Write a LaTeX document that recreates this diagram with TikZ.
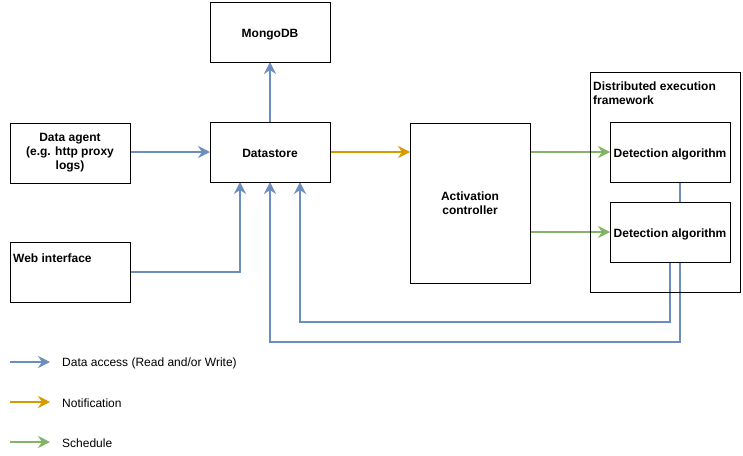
\documentclass[tikz,border=0pt]{standalone}
\usepackage{fontspec}
\setmainfont{Liberation Sans}
\usetikzlibrary{arrows.meta,backgrounds,calc,positioning}
\definecolor{dablue}{HTML}{6C8EBF}
\definecolor{noorange}{HTML}{D79B00}
\definecolor{scgreen}{HTML}{82B366}

\begin{document}
\begin{tikzpicture}[x=1pt, y=-1pt,
	box/.style={draw, fill=white, line width=0.8pt, minimum width=120pt,
		minimum height=60pt, inner sep=0pt, outer sep=0pt, align=center,
		font=\fontsize{12}{14}\selectfont\bfseries},
	oneline/.style={text height=11pt, text depth=1pt},
	flow/.style={line width=1.5pt, -{Stealth[length=12pt,width=12pt,inset=4pt]}},
	data/.style={flow, dablue},
	note/.style={flow, noorange},
	sched/.style={flow, scgreen},
	legtext/.style={anchor=west, inner sep=0pt, font=\fontsize{12}{14}\selectfont}]
	\useasboundingbox (0,0) rectangle (743,455);
	\node[box, oneline] (mongo) at (270, 32) {MongoDB};
	\node[box] (agent) at (70, 153) {Data agent\\(e.g. http proxy\\logs)};
	\node[box, oneline] (ds) at (270, 152) {Datastore};
	\node[box] (web) at (70, 272) {};
	\node[anchor=west, inner sep=0pt, font=\fontsize{12}{14}\selectfont\bfseries] (webtext) at (13, 258) {Web interface};
	\node[box, minimum height=160pt] (act) at (470, 203) {Activation\\controller};
	\node[box, fill=none, minimum width=150pt, minimum height=220pt] (frame) at (665, 182) {};
	\node[anchor=north west, inner sep=0pt, align=left, font=\fontsize{12}{14}\selectfont\bfseries] (frametext) at (593, 82) {Distributed execution\\framework};
	\node[box, oneline] (det1) at (670, 152) {Detection algorithm};
	\node[box, oneline] (det2) at (670, 232) {Detection algorithm};
	\coordinate (w1) at (240, 272);
	\coordinate (b1) at (680, 342);
	\coordinate (b2) at (670, 322);
	\begin{scope}[on background layer]
		\fill[white] (0,0) rectangle (743,455);
		\draw[data] (ds) -- (mongo);
		\draw[data] (agent.east |- ds) -- (ds);
		\draw[data] (web.east |- w1) -- (w1) -- ($(ds.south)+(-30,0)$);
		\draw[note] (ds) -- (act.west |- ds);
		\draw[sched] (act.east |- det1) -- (det1);
		\draw[sched] (act.east |- det2) -- (det2);
		\draw[data] ($(det1.south)+(10,0)$) -- (b1) -| (ds.south);
		\draw[data] (det2.south) -- (b2) -| ($(ds.south)+(30,0)$);
	\end{scope}
	% legend
	\coordinate (l1) at (10, 362);
	\coordinate (l2) at (10, 402);
	\coordinate (l3) at (10, 442);
	\node[legtext] (t1) at (62, 363) {Data access (Read and/or Write)};
	\node[legtext] (t2) at (62, 403) {Notification};
	\node[legtext] (t3) at (62, 443) {Schedule};
	\draw[data] (l1) -- ++(40,0);
	\draw[note] (l2) -- ++(40,0);
	\draw[sched] (l3) -- ++(40,0);
\end{tikzpicture}
\end{document}
